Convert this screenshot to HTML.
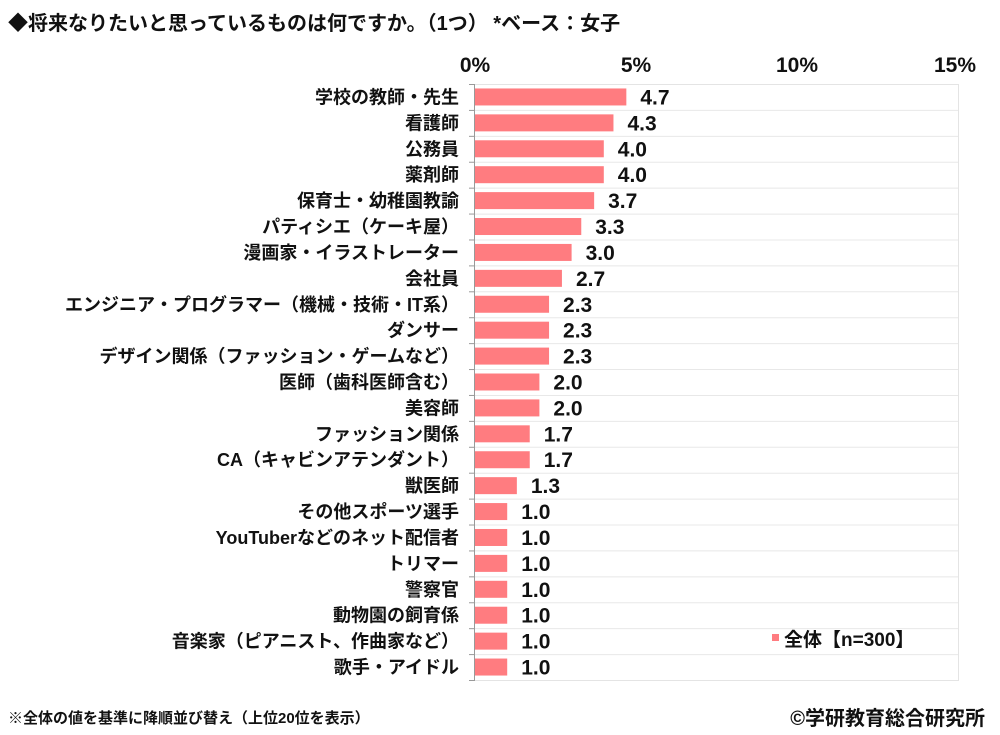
<!DOCTYPE html>
<html><head><meta charset="utf-8"><style>
html,body{margin:0;padding:0;background:#fff;}
svg{display:block;font-family:"Liberation Sans","Noto Sans CJK JP",sans-serif;}
</style></head><body>
<svg width="1000" height="735" viewBox="0 0 1000 735">
<text x="8" y="30" font-size="20" font-weight="bold" fill="#111">◆将来なりたいと思っているものは何ですか。（1つ） *ベース：女子</text>
<g font-size="21" font-weight="bold" fill="#111" text-anchor="middle">
<text x="475" y="72">0%</text><text x="636" y="72">5%</text><text x="797" y="72">10%</text><text x="955" y="72">15%</text>
</g>
<rect x="474.5" y="84.5" width="484" height="596" fill="#fff" stroke="#e4e4e4"/>
<g id="rows"></g>
<line x1="474.5" y1="84" x2="474.5" y2="681" stroke="#999"/>
<rect x="772" y="634" width="7" height="7" fill="#ff7c80"/>
<text x="784" y="646" font-size="19" font-weight="bold" fill="#111">全体【n=300】</text>
<text x="8" y="723" font-size="15" font-weight="bold" fill="#111">※全体の値を基準に降順並び替え（上位20位を表示）</text>
<text x="985" y="725" font-size="20" font-weight="bold" fill="#111" text-anchor="end">©学研教育総合研究所</text>
</svg>
<script>
var d=[["学校の教師・先生",4.7],["看護師",4.3],["公務員",4.0],["薬剤師",4.0],["保育士・幼稚園教諭",3.7],["パティシエ（ケーキ屋）",3.3],["漫画家・イラストレーター",3.0],["会社員",2.7],["エンジニア・プログラマー（機械・技術・IT系）",2.3],["ダンサー",2.3],["デザイン関係（ファッション・ゲームなど）",2.3],["医師（歯科医師含む）",2.0],["美容師",2.0],["ファッション関係",1.7],["CA（キャビンアテンダント）",1.7],["獣医師",1.3],["その他スポーツ選手",1.0],["YouTuberなどのネット配信者",1.0],["トリマー",1.0],["警察官",1.0],["動物園の飼育係",1.0],["音楽家（ピアニスト、作曲家など）",1.0],["歌手・アイドル",1.0]];
var s="",h=596/23,k=32.2;
d.forEach(function(r,i){var y=84+i*h,c=y+h/2;
if(i>0){s+='<line x1="475" x2="958" y1="'+(y+.5)+'" y2="'+(y+.5)+'" stroke="#e8e8e8"/>';}
s+='<line x1="469" x2="475" y1="'+(y+.5)+'" y2="'+(y+.5)+'" stroke="#999"/>';
var w=r[1]*k;
s+='<rect x="475" y="'+(c-8.5)+'" width="'+w+'" height="17" fill="#ff7c80"/>';
s+='<text x="'+(475+w+14)+'" y="'+(c+7.5)+'" font-size="21" font-weight="bold" fill="#111">'+r[1].toFixed(1)+'</text>';
s+='<text x="459" y="'+(c+6.5)+'" font-size="18" font-weight="bold" fill="#111" text-anchor="end">'+r[0]+'</text>';});
s+='<line x1="469" x2="475" y1="680.5" y2="680.5" stroke="#999"/>';
document.getElementById("rows").innerHTML=s;
</script>
</body></html>
